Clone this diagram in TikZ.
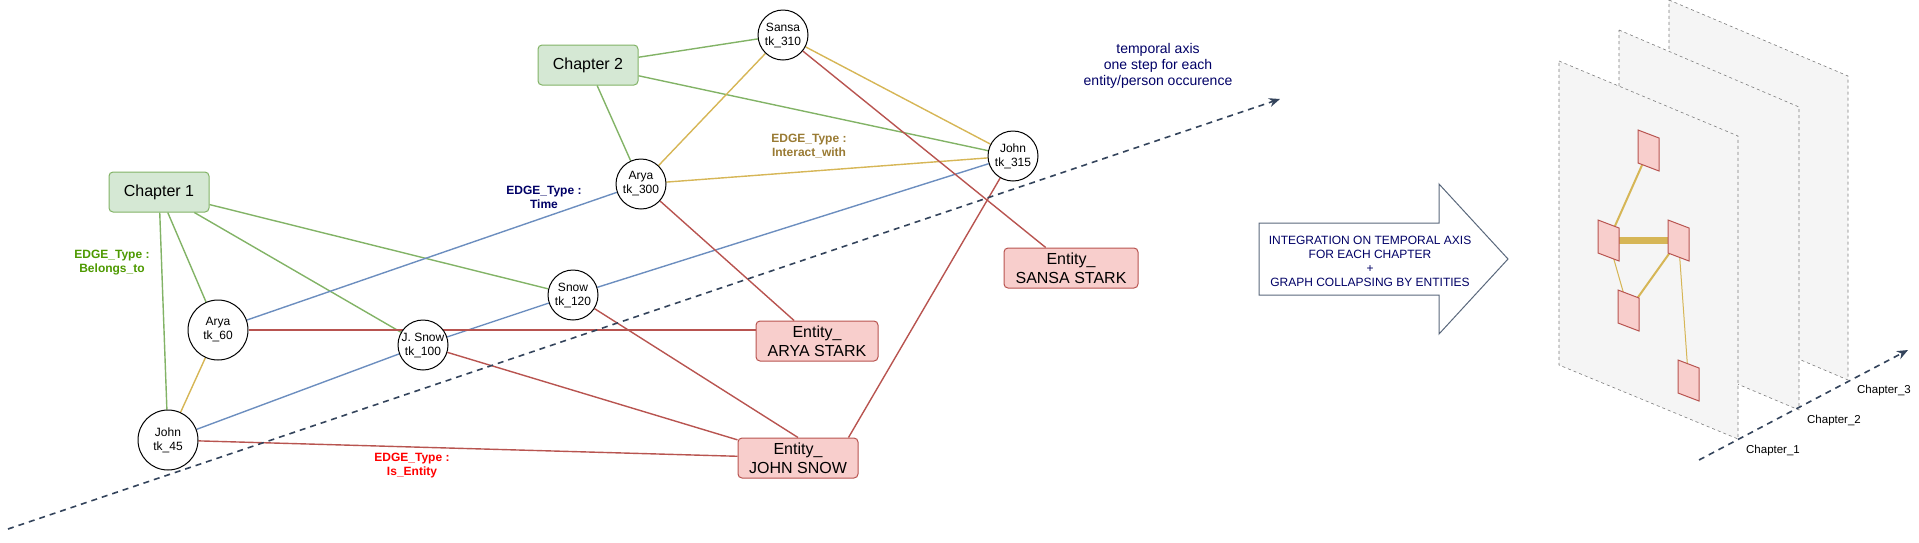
\documentclass[tikz,border=0pt]{standalone}
\usepackage{fontspec}
\setmainfont{Liberation Sans}
\usetikzlibrary{arrows.meta,backgrounds}
\definecolor{greenfill}{RGB}{213, 232, 212}
\definecolor{greenline}{RGB}{130, 179, 102}
\definecolor{redfill}{RGB}{248, 206, 204}
\definecolor{redline}{RGB}{184, 84, 80}
\definecolor{blueline}{RGB}{108, 142, 191}
\definecolor{goldline}{RGB}{214, 182, 86}
\definecolor{axisline}{RGB}{52, 68, 92}
\definecolor{navytext}{RGB}{0, 0, 102}
\definecolor{belongstext}{RGB}{77, 153, 0}
\definecolor{interacttext}{RGB}{153, 122, 51}
\definecolor{planefill}{RGB}{245, 245, 245}
\definecolor{planeline}{RGB}{125, 125, 125}
\definecolor{arrowline}{RGB}{90, 104, 124}
\pgfdeclarelayer{back}
\pgfsetlayers{back,background,main}
\tikzset{
  chapter/.style={draw=greenline, fill=greenfill, rounded corners=4pt, minimum width=100pt, minimum height=40pt, inner sep=0pt, line width=1pt, font=\fontsize{16}{19}\selectfont},
  entity/.style={draw=redline, fill=redfill, rounded corners=4pt, minimum height=40pt, inner sep=0pt, line width=1pt, align=center, font=\fontsize{16}{19}\selectfont},
  token/.style={circle, draw=black, fill=white, minimum size=50pt, inner sep=0pt, line width=1pt, align=center, font=\fontsize{12}{14}\selectfont},
  belongs/.style={draw=greenline, line width=1.4pt},
  interact/.style={draw=goldline, line width=1.4pt},
  timeedge/.style={draw=blueline, line width=1.4pt},
  isentity/.style={draw=redline, line width=1.4pt},
  edgelabel/.style={align=center, font=\fontsize{12}{14}\selectfont\bfseries},
  timeaxis/.style={draw=axisline, line width=1.6pt, dash pattern=on 6pt off 5pt, -{Stealth[length=11pt,width=9pt]}},
  plane/.style={draw=planeline, fill=planefill, line width=0.6pt, dash pattern=on 3pt off 3pt},
  smallentity/.style={draw=redline, fill=redfill, line width=1pt},
}
\begin{document}
\begin{tikzpicture}[x=1pt, y=-1pt]
\useasboundingbox (0,0) rectangle (1919,542);

% chapters
\node[chapter] (ch1) at (159,192) {Chapter 1};
\node[chapter] (ch2) at (588,65) {Chapter 2};

% token nodes
\node[token, minimum size=60pt] (arya60) at (218,330) {Arya\\tk\_60};
\node[token, minimum size=60pt] (john45) at (168,440) {John\\tk\_45};
\node[token] (jsnow100) at (423,345) {J. Snow\\tk\_100};
\node[token] (snow120) at (573,295) {Snow\\tk\_120};
\node[token] (arya300) at (641,184) {Arya\\tk\_300};
\node[token] (sansa310) at (783,35) {Sansa\\tk\_310};
\node[token] (john315) at (1013,156) {John\\tk\_315};

% entities
\node[entity, minimum width=134pt] (entSansa) at (1071,268) {Entity\_\\SANSA STARK};
\node[entity, minimum width=122pt] (entArya) at (817,341) {Entity\_\\ARYA STARK};
\node[entity, minimum width=120pt] (entJohn) at (798,458) {Entity\_\\JOHN SNOW};

\begin{pgfonlayer}{background}
  % belongs_to
  \draw[belongs] (ch1) -- (john45);
  \draw[belongs] (ch1) -- (arya60);
  \draw[belongs] (ch1) -- (jsnow100);
  \draw[belongs] (ch1) -- (snow120);
  \draw[belongs] (ch2) -- (sansa310);
  \draw[belongs] (ch2) -- (john315);
  \draw[belongs] (ch2) -- (arya300);
  % interact_with
  \draw[interact] (arya60) -- (john45);
  \draw[interact] (arya300) -- (sansa310);
  \draw[interact] (arya300) -- (john315);
  \draw[interact] (sansa310) -- (john315);
  % time
  \draw[timeedge] (arya60) -- (arya300);
  \draw[timeedge] (john45) -- (jsnow100) -- (snow120) -- (john315);
  % is_entity
  \draw[isentity] (arya60) -- (entArya.west |- arya60);
  \draw[isentity] (arya300) -- (entArya);
  \draw[isentity] (sansa310) -- (entSansa);
  \draw[isentity] (john45) -- (entJohn);
  \draw[isentity] (jsnow100) -- (entJohn);
  \draw[isentity] (snow120) -- (entJohn.north);
  \draw[isentity] (john315) -- ([xshift=-10pt]entJohn.north east);
\end{pgfonlayer}

% edge labels
\node[edgelabel, text=belongstext] (lblBelongs) at (112,263) {EDGE\_Type :\\Belongs\_to};
\node[edgelabel, text=navytext] (lblTime) at (544,197) {EDGE\_Type :\\Time};
\node[edgelabel, text=interacttext] (lblInteract) at (809,146) {EDGE\_Type :\\Interact\_with};
\node[edgelabel, text=red] (lblEntity) at (412,466) {EDGE\_Type :\\Is\_Entity};

% temporal axis
\coordinate (axisStart) at (8,529);
\coordinate (axisEnd) at (1280,99);
\draw[timeaxis] (axisStart) -- (axisEnd);
\node[align=center, text=navytext, font=\fontsize{14}{16}\selectfont] (axisText) at (1158,66) {temporal axis\\one step for each\\entity/person occurence};

% big arrow
\draw[draw=arrowline, fill=white, line width=1pt] (1259,223) -- (1439,223) -- (1439,184) -- (1508,259) -- (1439,334) -- (1439,295) -- (1259,295) -- cycle;
\node[align=center, text=navytext, font=\fontsize{12}{14}\selectfont] (integration) at (1370,261) {INTEGRATION ON TEMPORAL AXIS\\FOR EACH CHAPTER\\+\\GRAPH COLLAPSING BY ENTITIES};

% chapter planes
\begin{pgfonlayer}{back}
  \filldraw[plane] (1669,0) -- (1848,76) -- (1848,380) -- (1669,304) -- cycle;
  \filldraw[plane] (1619,30) -- (1799,107) -- (1799,410) -- (1619,334) -- cycle;
  \filldraw[plane] (1559,61) -- (1738,136) -- (1738,439) -- (1559,365) -- cycle;
\end{pgfonlayer}
\coordinate (chapStart) at (1699,460);
\coordinate (chapEnd) at (1908,350);
\draw[timeaxis] (chapStart) -- (chapEnd);
\node[font=\fontsize{11.5}{14}\selectfont] (chap1) at (1773,451) {Chapter\_1};
\node[font=\fontsize{11.5}{14}\selectfont] (chap2) at (1834,421) {Chapter\_2};
\node[font=\fontsize{11.5}{14}\selectfont] (chap3) at (1884,391) {Chapter\_3};

% collapsed graph
\foreach \n/\x/\y in {p1/1638/130, p2/1598/220, p3/1668/220, p4/1618/290, p5/1678/360}{
  \filldraw[smallentity] (\x,\y) -- ++(21,8) -- ++(0,33) -- ++(-21,-8) -- cycle;
  \coordinate (\n) at (\x+10.5,\y+20.5);
}
\begin{pgfonlayer}{background}
  \draw[goldline, line width=2pt] (p1) -- (p2);
  \draw[goldline, line width=7pt] (p2) -- (p3);
  \draw[goldline, line width=1pt] (p2) -- (p4);
  \draw[goldline, line width=2pt] (p3) -- (p4);
  \draw[goldline, line width=1pt] (p3) -- (p5);
\end{pgfonlayer}
\end{tikzpicture}
\end{document}
